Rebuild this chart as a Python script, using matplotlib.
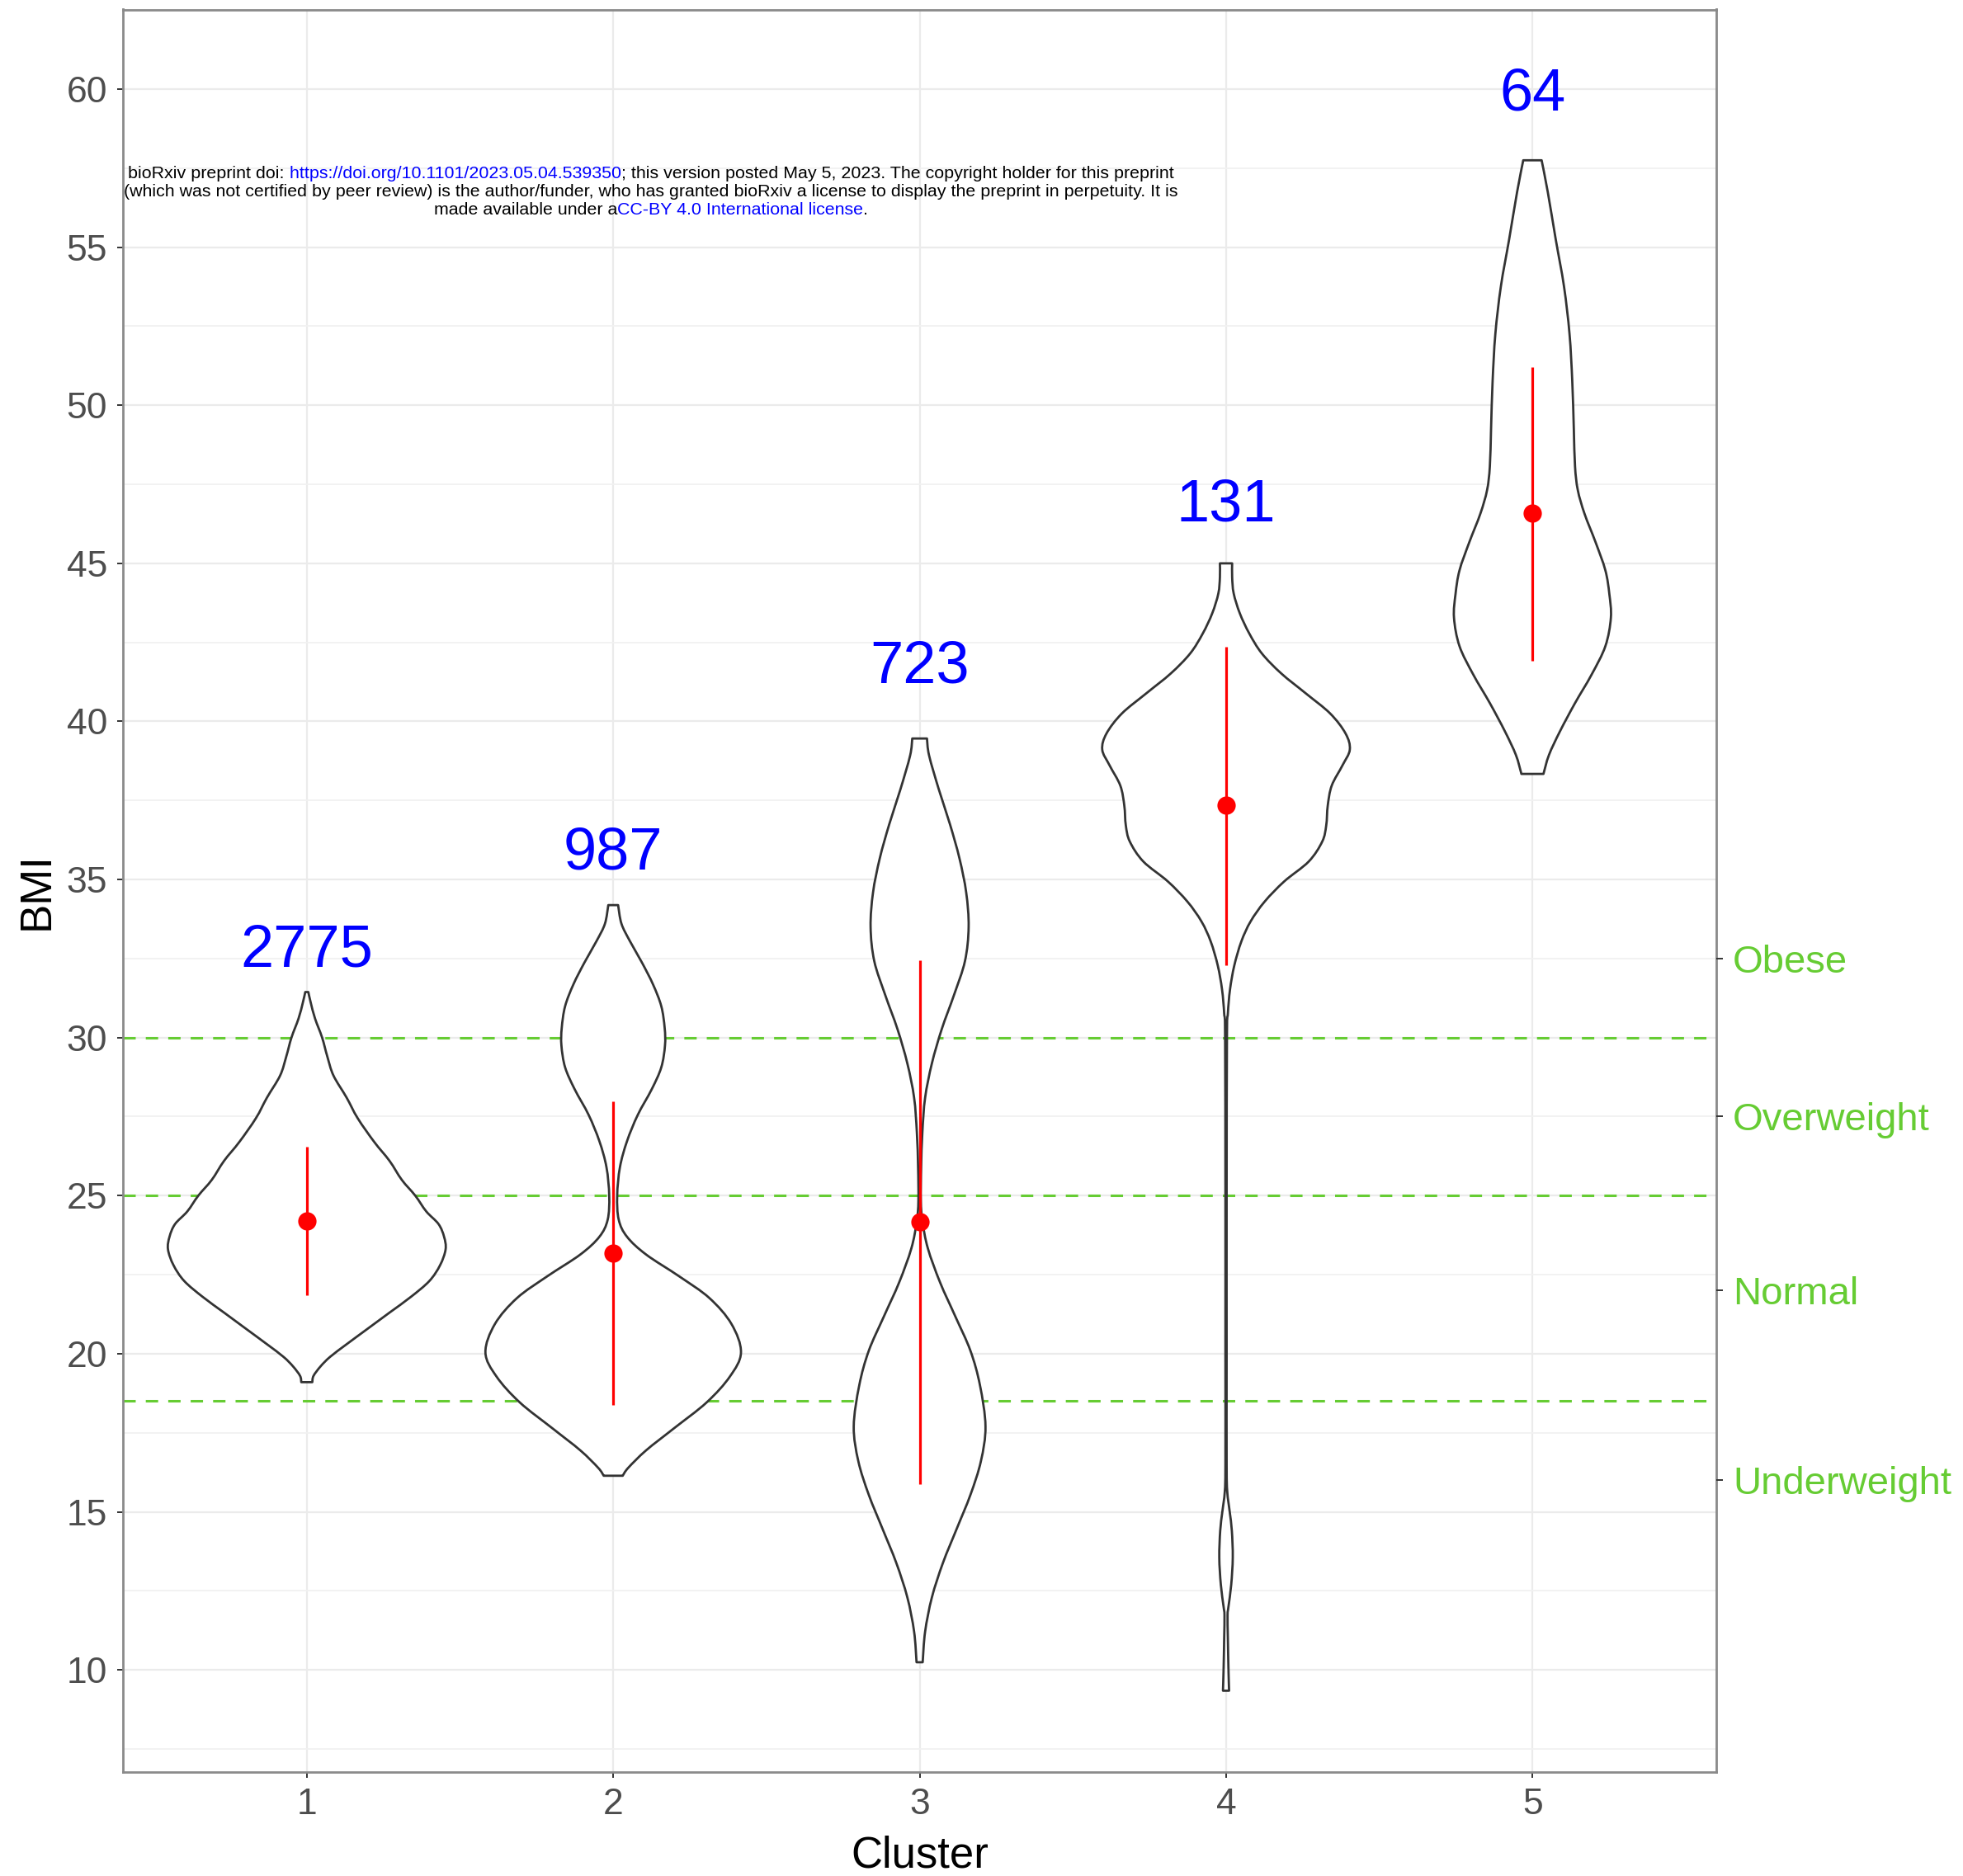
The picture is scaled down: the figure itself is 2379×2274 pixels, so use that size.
import numpy as np
import matplotlib
matplotlib.use("Agg")
import matplotlib.pyplot as plt
from matplotlib.path import Path
from matplotlib.patches import PathPatch

plt.rcParams['font.family'] = ['Liberation Sans', 'DejaVu Sans']

# ---------------- data ----------------
clusters = [1, 2, 3, 4, 5]
cluster_labels = ["1", "2", "3", "4", "5"]
counts = ["2775", "987", "723", "131", "64"]
count_label_y = [32.25, 35.33, 41.23, 46.33, 59.33]
means = [24.2, 23.17, 24.16, 37.34, 46.6]
range_low = [21.85, 18.39, 15.87, 32.28, 41.93]
range_high = [26.55, 27.98, 32.45, 42.37, 51.21]

cutoffs = [18.5, 25.0, 30.0]
category_labels = ["Obese", "Overweight", "Normal", "Underweight"]
category_pos = [32.5, 27.5, 22.0, 16.0]

y_ticks = [10, 15, 20, 25, 30, 35, 40, 45, 50, 55, 60]
y_minor = [7.5, 12.5, 17.5, 22.5, 27.5, 32.5, 37.5, 42.5, 47.5, 52.5, 57.5, 62.5]

# violin outlines: BMI value and half-width (x units)
v1_y = [31.44, 31.1, 30.6, 30.0, 29.4, 28.8, 28.1, 27.45, 26.7, 26.1, 25.5, 25.0, 24.5,
        24.1, 23.7, 23.3, 22.8, 22.3, 21.8, 21.3, 20.8, 20.3, 19.9, 19.6, 19.3, 19.1]
v1_w = [0.005, 0.013, 0.027, 0.05, 0.067, 0.087, 0.13, 0.166, 0.22, 0.27, 0.31, 0.354, 0.39,
        0.43, 0.448, 0.453, 0.435, 0.40, 0.34, 0.27, 0.20, 0.13, 0.076, 0.045, 0.022, 0.018]

v2_y = [34.19, 33.6, 33.06, 32.37, 31.68, 30.99, 30.3, 29.75, 29.06, 28.37, 27.55, 26.72,
        25.9, 25.0, 24.24, 23.7, 23.14, 22.45, 21.76, 20.94, 20.04, 19.28, 18.46, 17.63,
        16.94, 16.39, 16.14]
v2_w = [0.016, 0.027, 0.054, 0.094, 0.13, 0.157, 0.168, 0.169, 0.157, 0.126, 0.08, 0.045,
        0.022, 0.013, 0.018, 0.045, 0.107, 0.215, 0.314, 0.386, 0.417, 0.381, 0.305, 0.197,
        0.107, 0.049, 0.031]

v3_y = [39.46, 38.92, 37.84, 36.75, 35.67, 34.59, 33.5, 32.42, 31.34, 30.26, 29.18, 28.1,
        27.0, 25.9, 24.85, 24.2, 23.33, 22.25, 21.17, 20.09, 19.0, 17.7, 16.6, 15.54, 14.46,
        13.38, 12.29, 11.21, 10.24]
v3_w = [0.024, 0.031, 0.063, 0.099, 0.13, 0.152, 0.16, 0.148, 0.112, 0.072, 0.04, 0.018,
        0.009, 0.005, 0.004, 0.009, 0.027, 0.067, 0.117, 0.166, 0.197, 0.215, 0.2, 0.166,
        0.121, 0.076, 0.04, 0.018, 0.01]

v4_y = [45.0, 44.56, 44.05, 43.42, 42.78, 42.15, 41.52, 40.89, 40.25, 39.62, 39.11, 38.61,
        37.97, 37.34, 36.71, 36.2, 35.57, 34.94, 34.3, 33.67, 33.04, 32.28, 31.52, 30.76,
        30.0, 25.0, 20.0, 16.5, 15.64, 15.0, 14.4, 13.55, 12.7, 12.0, 11.73, 11.0, 10.0, 9.34]
v4_w = [0.02, 0.02, 0.025, 0.045, 0.076, 0.117, 0.18, 0.26, 0.34, 0.39, 0.404, 0.38,
        0.345, 0.332, 0.327, 0.314, 0.27, 0.19, 0.126, 0.08, 0.05, 0.027, 0.013, 0.006,
        0.003, 0.002, 0.002, 0.002, 0.004, 0.012, 0.019, 0.022, 0.017, 0.008, 0.005, 0.006,
        0.008, 0.01]

v5_y = [57.75, 56.75, 55.25, 53.76, 52.26, 50.76, 49.27, 48.07, 47.32, 46.57, 45.67, 44.78,
        44.03, 43.28, 42.38, 41.48, 40.58, 39.69, 38.94, 38.34]
v5_w = [0.03, 0.05, 0.076, 0.103, 0.121, 0.13, 0.135, 0.139, 0.148, 0.17, 0.206, 0.238,
        0.251, 0.256, 0.238, 0.193, 0.139, 0.09, 0.054, 0.036]

violin_y = [v1_y, v2_y, v3_y, v4_y, v5_y]
violin_w = [v1_w, v2_w, v3_w, v4_w, v5_w]

watermark_lines = [
    [("bioRxiv preprint doi:", "black"),
     (" https://doi.org/10.1101/2023.05.04.539350", "#0000FF"),
     ("; this version posted May 5, 2023. The copyright holder for this preprint", "black")],
    [("(which was not certified by peer review) is the author/funder, who has granted bioRxiv a license to display the preprint in perpetuity. It is", "black")],
    [("made available under a", "black"),
     ("CC-BY 4.0 International license", "#0000FF"),
     (".", "black")],
]


def violin_path(xc, ys, ws):
    """Closed outline through the read points, drawn with the library's cubic curves."""
    ys = np.asarray(ys, float)
    ws = np.asarray(ws, float)
    right = np.column_stack([xc + ws, ys])
    left = np.column_stack([xc - ws, ys])[::-1]
    verts = [tuple(right[0])]
    codes = [Path.MOVETO]

    def add_curve(pts):
        n = len(pts)
        for i in range(n - 1):
            p0 = pts[max(i - 1, 0)]
            p1 = pts[i]
            p2 = pts[i + 1]
            p3 = pts[min(i + 2, n - 1)]
            c1 = p1 + (p2 - p0) / 6.0
            c2 = p2 - (p3 - p1) / 6.0
            verts.extend([tuple(c1), tuple(c2), tuple(p2)])
            codes.extend([Path.CURVE4] * 3)

    add_curve(right)
    verts.append(tuple(left[0]))
    codes.append(Path.LINETO)
    add_curve(left)
    verts.append(tuple(right[0]))
    codes.append(Path.CLOSEPOLY)
    return Path(verts, codes)


# ---------------- style ----------------
GREEN = "#66CC33"
FW, FH = 2379, 2274
fig = plt.figure(figsize=(FW / 100, FH / 100), dpi=100)
fig.patch.set_facecolor("white")

left, right, top, bottom = 149, 2080, 11.5, 2147.5
ax = fig.add_axes([left / FW, 1 - bottom / FH, (right - left) / FW, (bottom - top) / FH])
ax.set_xlim(0.4, 5.6)
ax.set_ylim(6.78, 62.52)
ax.set_axisbelow(True)

ax.set_xticks(clusters)
ax.set_xticklabels(cluster_labels)
ax.set_yticks(y_ticks)
ax.set_yticks(y_minor, minor=True)
ax.grid(which="major", color="#EBEBEB", lw=1.6)
ax.grid(which="minor", axis="y", color="#F1F1F1", lw=1.3)
ax.tick_params(which="minor", length=0)
ax.tick_params(axis="both", which="major", length=5, width=1.4, color="#333333",
               labelsize=32, labelcolor="#4D4D4D")
ax.tick_params(axis="y", pad=8.5)
ax.tick_params(axis="x", pad=9)
for s in ax.spines.values():
    s.set_color("#8A8A8A")
    s.set_linewidth(2.0)
    s.set_zorder(6)

for c in cutoffs:
    ax.axhline(c, color=GREEN, lw=2.2, dashes=(4.9, 4.0), zorder=1.5)

for x, yy, ww in zip(clusters, violin_y, violin_w):
    patch = PathPatch(violin_path(x, yy, ww), facecolor="white", edgecolor="#333333",
                      linewidth=2.0, joinstyle="round", zorder=2)
    ax.add_patch(patch)

ax.vlines(clusters, range_low, range_high, color="red", lw=2.3, zorder=3)
ax.plot(clusters, means, "o", color="red", ms=16, mec="none", zorder=4)

for x, s, yb in zip(clusters, counts, count_label_y):
    ax.text(x, yb, s, ha="center", va="baseline", color="#0000FF", fontsize=52, zorder=5)

# secondary (category) axis
ax2 = ax.twinx()
ax2.set_ylim(ax.get_ylim())
ax2.set_yticks(category_pos)
ax2.set_yticklabels(category_labels)
for s in ax2.spines.values():
    s.set_visible(False)
ax2.tick_params(axis="y", length=5.5, width=1.4, color="#333333", labelsize=34,
                labelcolor=GREEN, pad=9)

# axis titles
fig.text(44.5 / FW, 1 - 1080.5 / FH, "BMI", rotation=90, ha="center", va="center",
         fontsize=38, color="black")
fig.text(1115 / FW, 1 - 2249 / FH, "Cluster", ha="center", va="center",
         fontsize=38, color="black")

# watermark (multi-coloured lines, centred)
renderer = fig.canvas.get_renderer()
probe = fig.text(0, 0, "".join(p for p, _ in watermark_lines[0]), fontsize=10)
w10 = probe.get_window_extent(renderer).width
probe.remove()
wm_size = 10 * 1266.0 / w10
baselines = [216.5, 238.5, 259.5]
cx = 789.0
for pieces, yb in zip(watermark_lines, baselines):
    texts = [fig.text(0, 1 - yb / FH, s, color=c, fontsize=wm_size, ha="left", va="baseline")
             for s, c in pieces]
    widths = [t.get_window_extent(renderer).width for t in texts]
    x0 = cx - sum(widths) / 2
    for t, w in zip(texts, widths):
        t.set_x(x0 / FW)
        x0 += w

fig.savefig("out.png", dpi=100, facecolor="white")
